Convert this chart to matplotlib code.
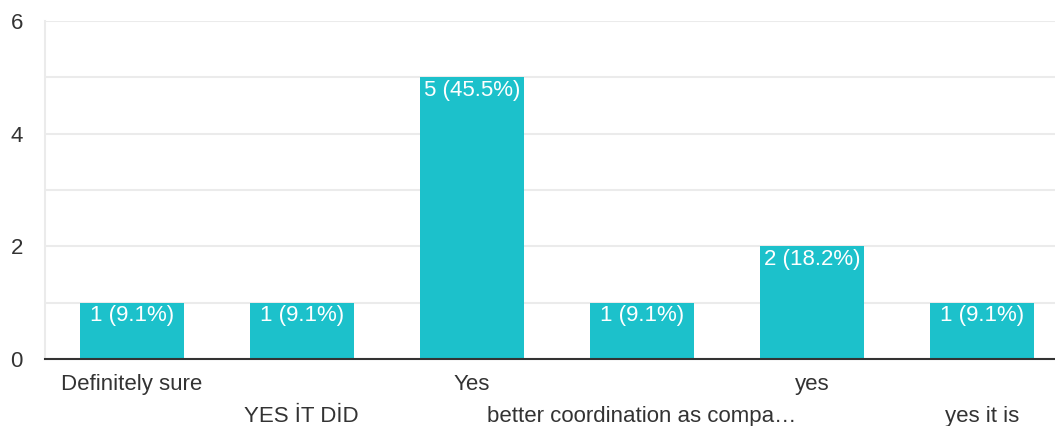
import matplotlib
matplotlib.use("Agg")
import matplotlib.pyplot as plt

plt.rcParams['font.family'] = ['Liberation Sans', 'DejaVu Sans']

categories = ["Definitely sure", "YES İT DİD", "Yes",
              "better coordination as compa…", "yes", "yes it is"]
counts = [1, 1, 5, 1, 2, 1]
percents = [9.1, 9.1, 45.5, 9.1, 18.2, 9.1]

bar_color = "#1cc1cb"
grid_color = "#ebebeb"
text_color = "#333333"

fig = plt.figure(figsize=(10.55, 4.26), dpi=100)
ax = fig.add_axes([45 / 1055, 67 / 426, 1 - 45 / 1055, 338 / 426])

x = list(range(len(categories)))
bars = ax.bar(x, counts, width=0.61, color=bar_color, zorder=2)

# value labels sit just inside the top of each bar
for b, c, p in zip(bars, counts, percents):
    ax.annotate(f"{c} ({p}%)", (b.get_x() + b.get_width() / 2, b.get_height()),
                xytext=(0, -2), textcoords="offset points",
                ha="center", va="top", color="white", fontsize=16, zorder=3)

ax.set_ylim(0, 6)
ax.set_xlim(-0.51, 5.43)
ax.set_yticks([0, 2, 4, 6])
ax.set_yticks([1, 3, 5], minor=True)
ax.yaxis.grid(True, which="both", color=grid_color, linewidth=1.5, zorder=0)
ax.tick_params(axis="y", which="both", length=0, pad=16, labelsize=16,
               labelcolor=text_color)

# alternate category labels between two rows
ax.set_xticks(x)
ax.set_xticklabels([])
ax.tick_params(axis="x", length=0)
for i, name in enumerate(categories):
    row = i % 2
    ax.annotate(name, (i, 0), xycoords=("data", "axes fraction"),
                xytext=(0, -11 - row * 23), textcoords="offset points",
                ha="center", va="top", fontsize=16, color=text_color)

for side in ["top", "right"]:
    ax.spines[side].set_visible(False)
ax.spines["left"].set_color(grid_color)
ax.spines["left"].set_linewidth(1.5)
ax.spines["bottom"].set_color("#333333")
ax.spines["bottom"].set_linewidth(1.5)
ax.spines["bottom"].set_zorder(4)

fig.savefig("out.png", dpi=100)
